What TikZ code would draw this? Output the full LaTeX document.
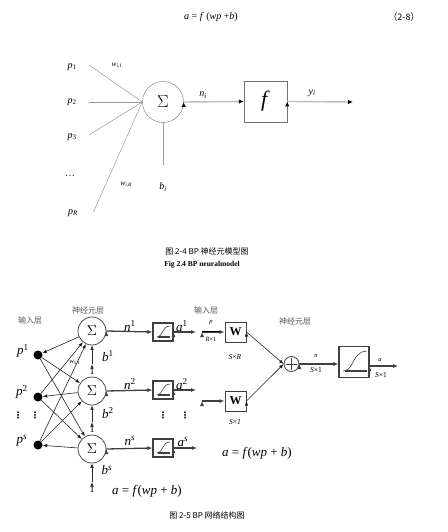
\documentclass[tikz,border=0pt]{standalone}
\usepackage{fontspec}
\setmainfont{Liberation Serif}
\newfontfamily\cjk{Noto Sans CJK SC}
\newfontfamily\symf{DejaVu Sans}
\usetikzlibrary{arrows,arrows.meta,positioning}
\tikzset{
  sumnode/.style={circle,draw=black!55,minimum size=41pt,inner sep=0pt},
  fbox/.style={rectangle,draw=black!55,minimum width=43pt,minimum height=41pt,inner sep=0pt},
  gline/.style={draw=black!40,line width=0.5pt},
  garrow/.style={draw=black!25,line width=1.4pt,-{Latex[black,length=5pt,width=4.5pt]}},
  plabel/.style={font=\fontsize{10}{12}\selectfont},
  sigma/.style={circle,draw=black!70,line width=0.8pt,minimum size=28pt,inner sep=0pt},
  dot/.style={circle,fill=black,minimum size=9pt,inner sep=0pt},
  link/.style={draw=black!85,line width=0.6pt,-{Latex[length=4.5pt,width=3.5pt]}},
  thickarrow/.style={draw=black!75,line width=1.3pt,-{Latex[length=5pt,width=4pt]}},
  bar/.style={draw=black,line width=2.6pt},
  tfbox/.style={rectangle,draw=black!75,line width=1.1pt,minimum width=20pt,minimum height=18pt,inner sep=0pt},
  wbox/.style={rectangle,draw=black!75,line width=1pt,minimum width=21pt,minimum height=20pt,inner sep=0pt,font=\bfseries\fontsize{12}{12}\selectfont},
  layer/.style={font=\cjk\fontsize{8}{9}\selectfont,text=black!65},
  vt/.style={font=\fontsize{13}{14}\selectfont},
  small/.style={font=\fontsize{7.5}{8}\selectfont},
  vdot/.style={font=\symf\bfseries\fontsize{9}{9}\selectfont,inner sep=0pt},
}
\begin{document}
\begin{tikzpicture}[x=1pt,y=-1pt]
\path[use as bounding box,fill=white] (0,0) rectangle (447,532);
% equation
\node (eq) [font=\fontsize{10}{12}\selectfont] at (211,17) {\textit{a} = \textit{f} (\textit{wp} +\textit{b})};
\node (eqno) [font=\cjk\fontsize{9}{10}\selectfont] at (404,17) {（2-8）};
%
% single neuron
\node (sum) [sumnode] at (163,102) {\LARGE$\Sigma$};
\node (f) [fbox] at (265.5,101.5) {\fontsize{22}{22}\selectfont\textit{f}};
\node (p1) [plabel] at (72,67) {\textit{p}\textsubscript{1}};
\node (p2) [plabel] at (72,102) {\textit{p}\textsubscript{2}};
\node (p3) [plabel] at (72,137) {\textit{p}\textsubscript{3}};
\node (pd) [plabel] at (70,176) {…};
\node (pR) [plabel] at (73,213) {\textit{p}\textsubscript{\textit{R}}};
\node (w1) [small] at (117,66) {\textit{w}\textsubscript{\textit{i},1}};
\node (wR) [small] at (126,185) {\textit{w}\textsubscript{\textit{i,R}}};
\node (bi) [plabel] at (163,187) {\textit{b}\textsubscript{\textit{i}}};
\node (ni) [plabel] at (203,95) {\textit{n}\textsubscript{\textit{i}}};
\node (yi) [plabel] at (312,93) {\textit{y}\textsubscript{\textit{i}}};
\coordinate (yout) at (353,102);
%
\path[gline] ([xshift=9pt,yshift=2pt]p1.east) edge (sum.west);
\path[gline] ([xshift=9pt]p2.east) edge (sum.west);
\path[gline] ([xshift=9pt,yshift=2pt]p3.east) edge (sum.west);
\path[gline] ([xshift=12pt,yshift=1pt]pR.east) edge (sum.west);
\path[gline] (sum.south) edge ([yshift=14pt]bi.north);
\path[garrow] (sum.east) edge (f.west);
\path[garrow] (f.east) edge (yout);
%
\node (cap1) [font=\cjk\fontsize{8}{9}\selectfont] at (207,251) {图\ 2-4 BP 神经元模型图};
\node (cap1e) [font=\bfseries\fontsize{7.5}{8}\selectfont] at (202,265) {Fig 2.4 BP neuralmodel};
%
% BP network, left part
\node (L1) [layer] at (30,320) {输入层};
\node (L2) [layer] at (88,310) {神经元层};
\node (L3) [layer] at (206,310) {输入层};
\node (L4) [layer] at (295,321) {神经元层};
%
\node (s1) [sigma] at (92,331) {\Large$\Sigma$};
\node (s2) [sigma] at (92,391) {\Large$\Sigma$};
\node (s3) [sigma] at (92,449) {\Large$\Sigma$};
\node (d1) [dot] at (38,355) {};
\node (d2) [dot] at (38,397) {};
\node (d3) [dot] at (38,445) {};
\node (lp1) [vt] at (23,351) {\textit{p}\textsuperscript{1}};
\node (lp2) [vt] at (22,392) {\textit{p}\textsuperscript{2}};
\node (lp3) [vt] at (22,441) {\textit{p}\textsuperscript{\textit{s}}};
\node (wl) [font=\fontsize{7}{8}\selectfont] at (75,363) {\textit{w}\textsubscript{1,1}};
\node (vd1) [vdot] at (18,415) {⋮};
\node (vd2) [vdot] at (35,415) {⋮};
%
\foreach \i in {1,2,3}{
  \foreach \j in {1,2,3}{
    \ifnum\i=\j
      \path[link] (s\i) edge (d\j);
    \else
      \path[link] (d\j) edge (s\i);
    \fi
  }
}
%
\node (o1) [plabel] at (92,371) {1};
\node (o2) [plabel] at (92,429) {1};
\node (o3) [plabel] at (92,489) {1};
\node (b1) [vt] at (108,356) {\textit{b}\textsuperscript{1}};
\node (b2) [vt] at (108,413) {\textit{b}\textsuperscript{2}};
\node (b3) [vt] at (107,470) {\textit{b}\textsuperscript{\textit{s}}};
\path[link] (o1.north) edge (s1.south);
\path[link] (o2.north) edge (s2.south);
\path[link] (o3.north) edge (s3.south);
%
\node (t1) [tfbox] at (163,332) {};
\node (t2) [tfbox] at (163,390) {};
\node (t3) [tfbox] at (163,448) {};
\node (n1) [vt] at (130,326) {\textit{n}\textsuperscript{1}};
\node (n2) [vt] at (130,384) {\textit{n}\textsuperscript{2}};
\node (n3) [vt] at (130,441) {\textit{n}\textsuperscript{\textit{s}}};
\node (a1) [vt] at (182,326) {\textit{a}\textsuperscript{1}};
\node (a2) [vt] at (182,384) {\textit{a}\textsuperscript{2}};
\node (a3) [vt] at (183,442) {\textit{a}\textsuperscript{\textit{s}}};
\coordinate (e1) at (196,332);
\coordinate (e2) at (196,390);
\coordinate (e3) at (197,448);
\foreach \k in {1,2,3}{
  \path[thickarrow] (s\k.east) edge (t\k.west);
  \path[thickarrow] (t\k.east) edge (e\k);
}
\node (vd3) [vdot] at (163,415) {⋮};
\node (vd4) [vdot] at (185,415) {⋮};
\node (f1) [vt] at (147,491) {\textit{a} = \textit{f}(\textit{wp} + \textit{b})};
%
% BP network, right part
\node (W1) [wbox] at (235.5,332) {W};
\node (W2) [wbox] at (235.5,401) {W};
\node (sr) [small] at (235,357) {\textit{S}×\textit{R}};
\node (s1b) [small] at (235,422) {\textit{S}×\textit{1}};
\coordinate (in1) at (202,332);
\coordinate (in2) at (202,401);
\path[bar] (in1) edge ++(18,0);
\path[thickarrow,line width=1pt] (in1) edge (W1.west);
\path[thickarrow,line width=1.5pt] (in2) edge (W2.west);
\node (pp) [font=\fontsize{6.5}{7}\selectfont] at (211,323) {\textit{p}};
\node (r1) [font=\fontsize{6.5}{7}\selectfont] at (211,339) {\textit{R}×1};
%
\node (plus) [circle,draw=black!75,line width=0.8pt,minimum size=15pt,inner sep=0pt] at (291.5,364) {};
\draw[line width=0.8pt,black!75] ([yshift=-2pt]plus.north) -- ([yshift=2pt]plus.south) ([xshift=2pt]plus.west) -- ([xshift=-2pt]plus.east);
\path[link] (W1.east) edge (plus.west);
\path[link] (W2.east) edge (plus.west);
%
\node (tf) [tfbox,minimum width=30pt,minimum height=31pt] at (354,362) {};
\path[bar] (plus.east) edge ++(26,0);
\path[thickarrow] (plus.east) edge ([yshift=-2pt]tf.west);
\node (nn) [font=\fontsize{6.5}{7}\selectfont] at (316,356) {\textit{n}};
\node (ns) [small] at (316,370) {\textit{S}×1};
\coordinate (aout) at (398,366);
\path[bar] ([yshift=-4pt]tf.east) edge ++(17,0);
\path[thickarrow] ([yshift=-4pt]tf.east) edge (aout);
\node (aa) [font=\fontsize{6.5}{7}\selectfont] at (380,360) {\textit{a}};
\node (as) [small] at (381,375) {\textit{S}×1};
%
\foreach \b/\k in {t1/1,t2/1,t3/1,tf/1.8}{
  \begin{scope}[shift={(\b.center)},scale=\k]
    \draw[line width=1.2pt,black!75] (-5,5) -- (7,5);
    \draw[line width=0.6pt,black!75] (-6,5) .. controls (0,5) and (-1,-6) .. (7,-6);
  \end{scope}
}
\node (f2) [vt] at (257,453) {\textit{a} = \textit{f}(\textit{wp} + \textit{b})};
%
\node (cap2) [font=\cjk\fontsize{8}{9}\selectfont] at (207,515) {图\ 2-5 BP 网络结构图};
\end{tikzpicture}
\end{document}
